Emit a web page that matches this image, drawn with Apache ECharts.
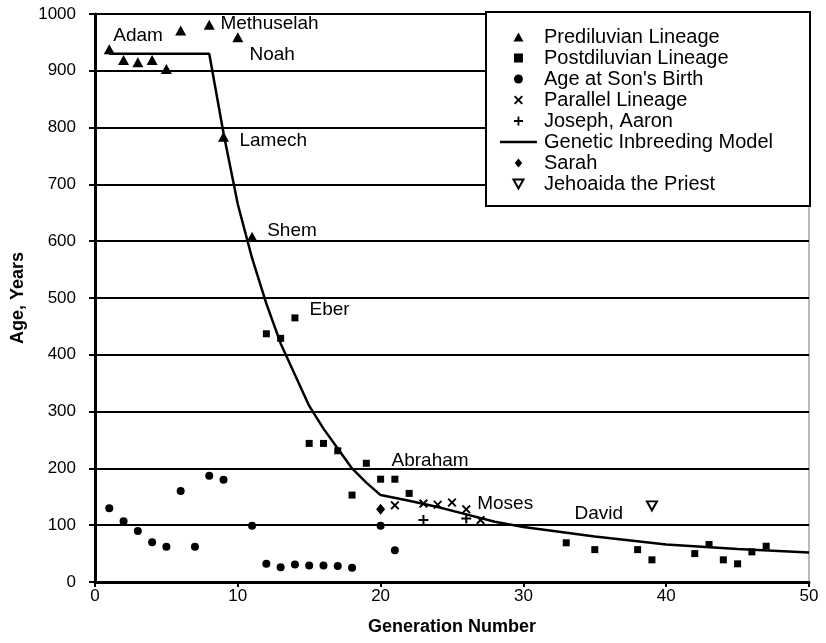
<!DOCTYPE html>
<html>
<head>
<meta charset="utf-8">
<script src="https://cdn.jsdelivr.net/npm/echarts@6/dist/echarts.min.js"></script>
<style>
  html, body { margin: 0; padding: 0; background: #fff; }
  #chart { width: 826px; height: 643px; }
</style>
</head>
<body>
<div id="chart"></div>
<script>
// values
var preGen = [1, 2, 3, 4, 5, 6, 8, 9, 10, 11];
var preAge = [938, 919, 915, 919, 903, 971, 981, 784, 959, 608];

var postGen = [12, 13, 14, 15, 16, 17, 18, 19, 20, 21, 22, 33, 35, 38, 39, 42, 43, 44, 45, 46, 47];
var postAge = [437, 429, 465, 244, 244, 231, 153, 209, 181, 181, 156, 69, 57, 57, 39, 50, 66, 39, 32, 53, 63];

var birthGen = [1, 2, 3, 4, 5, 6, 7, 8, 9, 11, 12, 13, 14, 15, 16, 17, 18, 20, 21];
var birthAge = [130, 107, 90, 70, 62, 160, 62, 187, 180, 99, 32, 26, 31, 29, 29, 28, 25, 99, 56];

var parallelGen = [21, 23, 24, 25, 26, 27];
var parallelAge = [135, 138, 136, 140, 128, 109];

var josephGen = [23, 26];
var josephAge = [109, 112];

var modelGen = [1, 8, 9, 10, 11, 12, 13, 14, 15, 16, 17, 18, 19, 20, 22, 24, 26, 28, 30, 35, 40, 45, 50];
var modelAge = [930, 930, 790, 665, 570, 490, 420, 365, 310, 270, 235, 200, 175, 153, 143, 132, 119, 106, 97, 80, 66, 58, 52];

var sarahGen = [20];
var sarahAge = [128];

var jehoiadaGen = [39];
var jehoiadaAge = [134];

// name labels, anchored at the left edge of each word
var noteNames = ['Adam', 'Methuselah', 'Noah', 'Lamech', 'Shem', 'Eber', 'Abraham', 'Moses', 'David'];
var noteGen = [1.24, 8.75, 10.78, 10.08, 12.02, 14.99, 20.73, 26.73, 33.54];
var noteAge = [961, 982, 929, 777, 618, 479, 214, 137, 120];

var legendNames = ['Prediluvian Lineage', 'Postdiluvian Lineage', "Age at Son's Birth", 'Parallel Lineage',
  'Joseph, Aaron', 'Genetic Inbreeding Model', 'Sarah', 'Jehoaida the Priest'];

var FONT = '"Liberation Sans", Arial, Helvetica, sans-serif';

function pairs(xs, ys) {
  return xs.map(function (x, i) { return [x, ys[i]]; });
}

var triPath = 'path://M5,0L10,9H0Z';
var squarePath = 'path://M0,0H10V10H0Z';
var diamondPath = 'path://M5,0L10,6L5,12L0,6Z';
var crossPath = 'path://M0,1.5L1.5,0L5,3.5L8.5,0L10,1.5L6.5,5L10,8.5L8.5,10L5,6.5L1.5,10L0,8.5L3.5,5Z';
var plusPath = 'path://M4,0H6V4H10V6H6V10H4V6H0V4H4Z';
var downTri = 'path://M0,0H10L5,9Z';
// 41x10 box with a 3px bar through the middle, for the model line in the legend
var lineIcon = 'path://M0,0H0.01V10H0Z M0,3.5H41V6.5H0Z';

var chart = echarts.init(document.getElementById('chart'));

var legendData = legendNames.map(function (n) {
  return n === 'Genetic Inbreeding Model' ? { name: n, icon: lineIcon } : { name: n };
});

var option = {
  backgroundColor: '#fff',
  animation: false,
  textStyle: { fontFamily: FONT, color: '#000' },
  grid: {
    left: 95, right: 17, top: 14, bottom: 61,
    show: true, borderColor: '#777', borderWidth: 1
  },
  legend: {
    data: legendData,
    orient: 'vertical',
    left: 500, top: 27,
    padding: 0,
    itemWidth: 41, itemHeight: 9, itemGap: 1,
    textStyle: { fontSize: 20, lineHeight: 20, color: '#000', fontFamily: FONT },
    selectedMode: false
  },
  graphic: [{
    type: 'rect',
    z: 3,
    shape: { x: 486, y: 12, width: 324, height: 194 },
    style: { fill: '#fff', stroke: '#000', lineWidth: 2 }
  }],
  xAxis: {
    type: 'value',
    min: 0, max: 50, interval: 10,
    name: 'Generation Number',
    nameLocation: 'middle',
    nameGap: 36,
    nameTextStyle: { fontSize: 18, fontWeight: 'bold', color: '#000', fontFamily: FONT },
    axisLine: { show: true, onZero: false, lineStyle: { color: '#000', width: 3 } },
    axisTick: { show: true, length: 5, lineStyle: { color: '#000', width: 2 } },
    axisLabel: { fontSize: 17, color: '#000', margin: 6, fontFamily: FONT },
    splitLine: { show: false }
  },
  yAxis: {
    type: 'value',
    min: 0, max: 1000, interval: 100,
    name: 'Age, Years',
    nameLocation: 'middle',
    nameGap: 64,
    nameRotate: 90,
    nameTextStyle: { fontSize: 18, fontWeight: 'bold', color: '#000', fontFamily: FONT },
    axisLine: { show: true, onZero: false, lineStyle: { color: '#000', width: 3 } },
    axisTick: { show: true, length: 6, lineStyle: { color: '#000', width: 2 } },
    axisLabel: {
      fontSize: 17, color: '#000', margin: 19, fontFamily: FONT,
      formatter: function (v) { return String(v); }
    },
    splitLine: { show: true, lineStyle: { color: '#000', width: 2 } }
  },
  series: [
    {
      name: 'Prediluvian Lineage', type: 'scatter',
      symbol: triPath, symbolSize: [11, 10],
      itemStyle: { color: '#000', opacity: 1 },
      data: pairs(preGen, preAge)
    },
    {
      name: 'Postdiluvian Lineage', type: 'scatter',
      symbol: squarePath, symbolSize: 7,
      itemStyle: { color: '#000', opacity: 1 },
      data: pairs(postGen, postAge)
    },
    {
      name: "Age at Son's Birth", type: 'scatter',
      symbol: 'circle', symbolSize: 8,
      itemStyle: { color: '#000', opacity: 1 },
      data: pairs(birthGen, birthAge)
    },
    {
      name: 'Parallel Lineage', type: 'scatter',
      symbol: crossPath, symbolSize: 9,
      itemStyle: { color: '#000', opacity: 1 },
      data: pairs(parallelGen, parallelAge)
    },
    {
      name: 'Joseph, Aaron', type: 'scatter',
      symbol: plusPath, symbolSize: 10,
      itemStyle: { color: '#000', opacity: 1 },
      data: pairs(josephGen, josephAge)
    },
    {
      name: 'Genetic Inbreeding Model', type: 'line',
      symbol: 'none', showSymbol: false,
      lineStyle: { color: '#000', width: 2.5 },
      itemStyle: { color: '#000' },
      data: pairs(modelGen, modelAge)
    },
    {
      name: 'Sarah', type: 'scatter',
      symbol: diamondPath, symbolSize: [9, 11],
      itemStyle: { color: '#000', opacity: 1 },
      data: pairs(sarahGen, sarahAge)
    },
    {
      name: 'Jehoaida the Priest', type: 'scatter',
      symbol: downTri, symbolSize: [10, 9],
      itemStyle: { color: '#fff', borderColor: '#000', borderWidth: 2, opacity: 1 },
      data: pairs(jehoiadaGen, jehoiadaAge)
    },
    {
      name: 'notes', type: 'scatter',
      symbolSize: 1,
      silent: true,
      itemStyle: { color: 'rgba(0,0,0,0)', opacity: 1 },
      label: {
        show: true, position: 'right', distance: 0,
        formatter: function (p) { return p.data[2]; },
        fontSize: 19, color: '#000', opacity: 1, fontFamily: FONT
      },
      data: noteGen.map(function (g, i) { return [g, noteAge[i], noteNames[i]]; })
    }
  ]
};

chart.setOption(option);
</script>
</body>
</html>
